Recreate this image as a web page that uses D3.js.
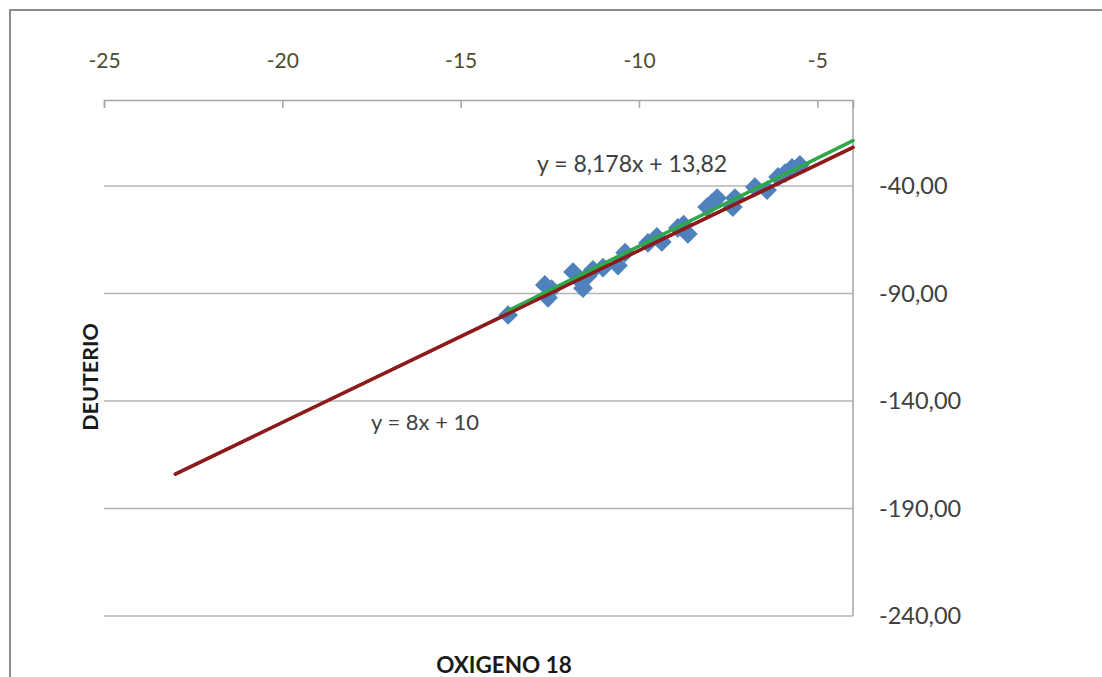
<!DOCTYPE html>
<html lang="es">
<head>
<meta charset="UTF-8">
<title>Deuterio vs Oxigeno 18</title>
<script src="https://d3js.org/d3.v7.min.js"></script>
<style>
  body { margin: 0; background: #fff; }
  svg text { font-family: Lato, "Open Sans", sans-serif; }
</style>
</head>
<body>
<div id="grafico"></div>
<script>
// -- Datos --
const oxigeno = [-13.67, -12.64, -12.55, -12.45, -11.85, -11.65, -11.57, -11.45, -11.29, -11.01,
                 -10.59, -10.39, -9.75, -9.50, -9.36, -8.91, -8.75, -8.63, -8.09, -7.95,
                 -7.81, -7.37, -7.31, -6.75, -6.41, -6.10, -5.90, -5.71, -5.49];
const deuterio = [-100, -86, -92, -88, -80, -84, -87.5, -82, -79, -78,
                  -77, -71, -66.5, -63.7, -66, -59.5, -58, -62.3, -49.8, -48,
                  -45.6, -49.8, -45.6, -40.5, -41.9, -35.8, -34, -31.6, -30.2];
const xTicks = [-25, -20, -15, -10, -5];
const yTicks = [-240, -190, -140, -90, -40];
// recta meteórica mundial y ajuste lineal
const lineaMundial = { pendiente: 8, origen: 10, desde: -23, hasta: -4, etiqueta: "y = 8x + 10" };
const lineaAjuste = { pendiente: 8.178, origen: 13.82, desde: -13.67, hasta: -4, etiqueta: "y = 8,178x + 13,82" };

const width = 1102, height = 677;
const izq = 104, der = 853, arriba = 100, abajo = 616;

const svg = d3.select("#grafico").append("svg")
    .attr("width", width)
    .attr("height", height);

// marco
svg.append("rect")
    .attr("x", 10).attr("y", 10)
    .attr("width", width + 20).attr("height", height + 20)
    .attr("fill", "#fff")
    .attr("stroke", "#8c8c8c")
    .attr("stroke-width", 2);

const x = d3.scaleLinear().domain([-25, -4]).range([izq, der]);
const y = d3.scaleLinear().domain([-240, 0]).range([abajo, arriba]);

// -- lineas de cuadricula --
svg.append("g").selectAll("line")
    .data(yTicks)
    .join("line")
    .attr("x1", izq).attr("x2", der)
    .attr("y1", d => y(d)).attr("y2", d => y(d))
    .attr("stroke", "#b4b4b4")
    .attr("stroke-width", 1.5);

// eje vertical derecho (sin marcas)
svg.append("line")
    .attr("x1", der).attr("x2", der)
    .attr("y1", arriba).attr("y2", abajo)
    .attr("stroke", "#a6a6a6").attr("stroke-width", 1.5);

// etiquetas eje Y
svg.append("g").selectAll("text")
    .data(yTicks)
    .join("text")
    .attr("x", 879)
    .attr("y", d => y(d) + 8)
    .attr("font-size", 23.5)
    .attr("fill", "#404040")
    .text(d => d3.format(".2f")(d).replace("−", "-").replace(".", ","));

// -- eje X superior --
const ejeX = d3.axisTop(x).tickValues(xTicks).tickSize(-8).tickPadding(0);
const gx = svg.append("g")
    .attr("transform", `translate(0,${arriba})`)
    .call(ejeX);
gx.select(".domain").attr("stroke", "#a6a6a6").attr("stroke-width", 1.5);
gx.selectAll(".tick line").attr("stroke", "#a6a6a6").attr("stroke-width", 1.5);
gx.selectAll(".tick text")
    .attr("y", -32)
    .attr("font-size", 21)
    .attr("font-family", "Lato, sans-serif")
    .attr("fill", "#4d4d2e")
    .text(d => String(d));

// -- rectas --
function dibujaRecta(r, color, ancho) {
  svg.append("line")
      .attr("x1", x(r.desde)).attr("y1", y(r.pendiente * r.desde + r.origen))
      .attr("x2", x(r.hasta)).attr("y2", y(r.pendiente * r.hasta + r.origen))
      .attr("stroke", color)
      .attr("stroke-width", ancho)
      .attr("stroke-linecap", "round");
}

// -- puntos (rombos) --
const rombo = d3.symbol().type(d3.symbolSquare).size(195);
svg.append("g").selectAll("path")
    .data(oxigeno.map((o, i) => [o, deuterio[i]]))
    .join("path")
    .attr("d", rombo)
    .attr("transform", d => `translate(${x(d[0])},${y(d[1])}) rotate(45)`)
    .attr("fill", "#4f81bd");

dibujaRecta(lineaMundial, "#8e1b1b", 3.5);
dibujaRecta(lineaAjuste, "#2ea84a", 3.5);
dibujaRecta(lineaMundial, "#8e1b1b", 3);

// ecuaciones
svg.append("text")
    .attr("x", 537).attr("y", 172)
    .attr("font-size", 23)
    .attr("fill", "#404040")
    .text(lineaAjuste.etiqueta);
svg.append("text")
    .attr("x", 371).attr("y", 430)
    .attr("font-size", 22)
    .attr("fill", "#404040")
    .text(lineaMundial.etiqueta);

// -- titulos de ejes --
svg.append("text")
    .attr("transform", "translate(98,377) rotate(-90)")
    .attr("text-anchor", "middle")
    .attr("font-size", 21.5)
    .attr("font-weight", "bold")
    .attr("fill", "#1a1a1a")
    .text("DEUTERIO");
svg.append("text")
    .attr("x", 504).attr("y", 673)
    .attr("text-anchor", "middle")
    .attr("font-size", 22.5)
    .attr("font-weight", "bold")
    .attr("fill", "#1a1a1a")
    .text("OXIGENO 18");
</script>
</body>
</html>
